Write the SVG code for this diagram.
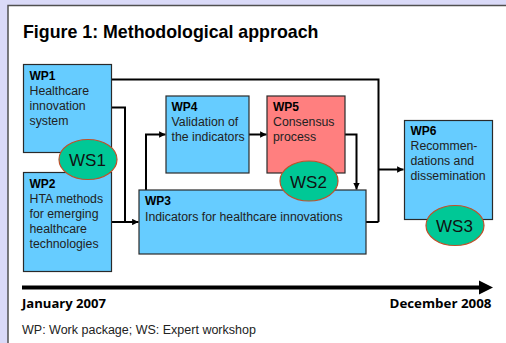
<svg xmlns="http://www.w3.org/2000/svg" width="506" height="343" viewBox="0 0 506 343">
  <defs>
    <marker id="arr" viewBox="0 0 10 10" refX="10" refY="5" markerWidth="3.2" markerHeight="3.2" orient="auto" markerUnits="strokeWidth">
      <path d="M0,0 L10,5 L0,10 Z" fill="#000"/>
    </marker>
    <style>
      .box { fill: #66ccff; stroke: #2a2a2a; stroke-width: 1.2; }
      .red { fill: #ff7f7f; }
      .ws { fill: #00c896; stroke: #c0502a; stroke-width: 1.2; }
      .wst { font-family: "Liberation Sans", Arial, sans-serif; font-size: 17px; fill: #111; text-anchor: middle; }
      .lbl { font-family: "Liberation Sans", Arial, sans-serif; font-size: 12px; font-weight: bold; fill: #000; }
      .txt { font-family: "Liberation Sans", Arial, sans-serif; font-size: 12.3px; fill: #222; }
      .conn { fill: none; stroke: #000; stroke-width: 2; }
      .date { font-family: "Open Sans", "Liberation Sans", sans-serif; font-size: 12px; font-weight: bold; fill: #000; }
    </style>
  </defs>

  <!-- page background and figure panel -->
  <rect x="0" y="0" width="506" height="343" fill="#dadaf8"/>
  <rect x="8" y="5.5" width="510" height="350" fill="#fff" stroke="#505050" stroke-width="1.5"/>

  <text x="23" y="37.5" font-family="'Liberation Sans', Arial, sans-serif" font-size="17.8" font-weight="bold" fill="#000">Figure 1: Methodological approach</text>

  <!-- connectors -->
  <g id="connectors">
    <polyline class="conn" points="112,79.5 378.5,79.5 378.5,222"/>
    <polyline class="conn" points="366,222 378.5,222"/>
    <polyline class="conn" points="378.5,169.5 403.5,169.5" marker-end="url(#arr)"/>
    <polyline class="conn" points="112,107.5 125,107.5 125,222"/>
    <polyline class="conn" points="112,222 138.5,222" marker-end="url(#arr)"/>
    <polyline class="conn" points="146,190 146,134.5 165.5,134.5" marker-end="url(#arr)"/>
    <polyline class="conn" points="249,134.5 266.5,134.5" marker-end="url(#arr)"/>
    <polyline class="conn" points="345,134.5 356.5,134.5 356.5,189.5" marker-end="url(#arr)"/>
  </g>

  <!-- work packages -->
  <g id="wp1">
    <rect class="box" x="23.5" y="64.5" width="88" height="88"/>
    <text class="lbl" x="29.5" y="80">WP1</text>
    <text class="txt" x="29.5" y="95">Healthcare</text>
    <text class="txt" x="29.5" y="110">innovation</text>
    <text class="txt" x="29.5" y="125">system</text>
  </g>
  <g id="wp2">
    <rect class="box" x="23.5" y="172.5" width="88" height="99"/>
    <text class="lbl" x="29.5" y="188">WP2</text>
    <text class="txt" x="29.5" y="203">HTA methods</text>
    <text class="txt" x="29.5" y="218">for emerging</text>
    <text class="txt" x="29.5" y="233">healthcare</text>
    <text class="txt" x="29.5" y="248">technologies</text>
  </g>
  <g id="wp3">
    <rect class="box" x="139" y="190" width="227" height="64"/>
    <text class="lbl" x="145" y="205">WP3</text>
    <text class="txt" x="145" y="220.5">Indicators for healthcare innovations</text>
  </g>
  <g id="wp4">
    <rect class="box" x="166" y="96" width="83" height="77"/>
    <text class="lbl" x="171.5" y="111">WP4</text>
    <text class="txt" x="171.5" y="126">Validation of</text>
    <text class="txt" x="171.5" y="141">the indicators</text>
  </g>
  <g id="wp5">
    <rect class="box red" x="267" y="96" width="78" height="77"/>
    <text class="lbl" x="273" y="111">WP5</text>
    <text class="txt" x="273" y="126">Consensus</text>
    <text class="txt" x="273" y="141">process</text>
  </g>
  <g id="wp6">
    <rect class="box" x="404.5" y="120.5" width="88" height="99"/>
    <text class="lbl" x="410.5" y="135">WP6</text>
    <text class="txt" x="410.5" y="150">Recommen-</text>
    <text class="txt" x="410.5" y="165">dations and</text>
    <text class="txt" x="410.5" y="180">dissemination</text>
  </g>

  <!-- expert workshops -->
  <g id="ws1">
    <ellipse class="ws" cx="88" cy="159.5" rx="29" ry="20"/>
    <text class="wst" x="87.5" y="166">WS1</text>
  </g>
  <g id="ws2">
    <ellipse class="ws" cx="309" cy="181" rx="29" ry="20"/>
    <text class="wst" x="308.5" y="187.5">WS2</text>
  </g>
  <g id="ws3">
    <ellipse class="ws" cx="455" cy="225.5" rx="29" ry="20"/>
    <text class="wst" x="454.5" y="232">WS3</text>
  </g>

  <!-- timeline -->
  <g id="timeline">
    <line x1="22" y1="287.5" x2="481" y2="287.5" stroke="#000" stroke-width="4"/>
    <path d="M479,280.5 L493,287.5 L479,294.5 Z" fill="#000"/>
    <text class="date" x="22" y="307.5" textLength="84" lengthAdjust="spacingAndGlyphs">January 2007</text>
    <text class="date" x="491.5" y="307.5" text-anchor="end" textLength="102" lengthAdjust="spacingAndGlyphs">December 2008</text>
  </g>

  <text x="22" y="334" font-family="'Liberation Sans', Arial, sans-serif" font-size="12.5" fill="#222">WP: Work package; WS: Expert workshop</text>
</svg>
